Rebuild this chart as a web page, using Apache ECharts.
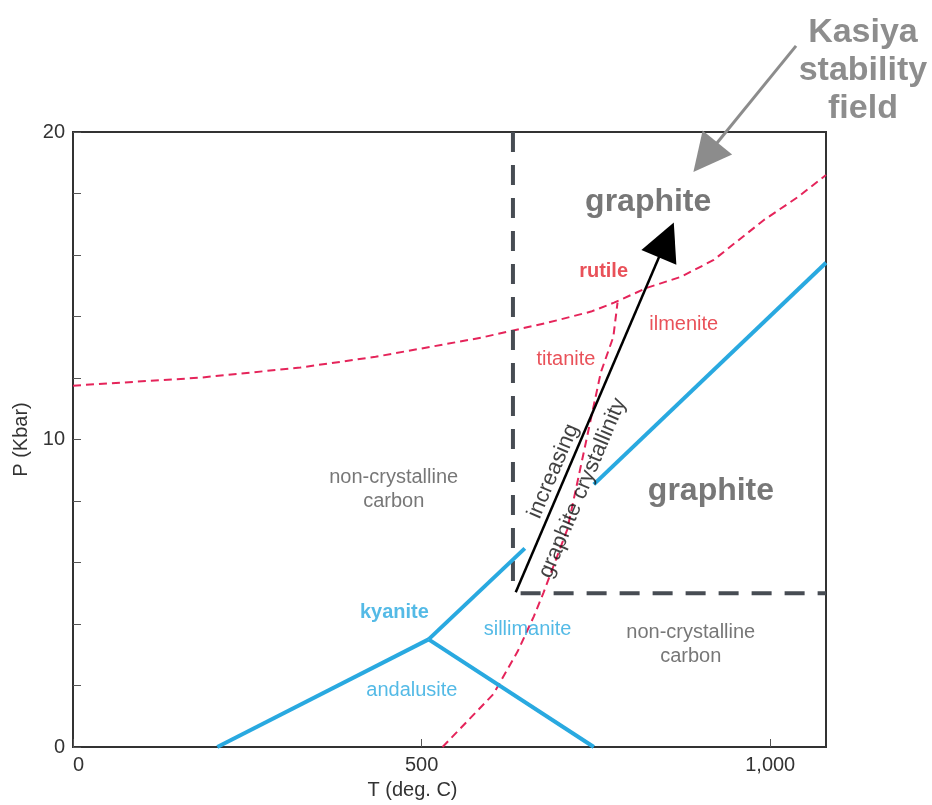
<!DOCTYPE html>
<html>
<head>
<meta charset="utf-8">
<script src="https://cdn.jsdelivr.net/npm/echarts@6/dist/echarts.min.js"></script>
<style>
  html, body { margin: 0; padding: 0; background: #fff; }
  #main { width: 932px; height: 805px; }
</style>
</head>
<body>
<div id="main"></div>
<script type="text/javascript">
// T in deg. C, P in kbar
var xTicks = [0, 500, 1000];
var yTicks = [0, 10, 20];

var kyaniteAndalusite = [[207, 0], [510, 3.5]];
var kyaniteSillimanite = [[510, 3.5], [648, 6.46]];
var andalusiteSillimanite = [[510, 3.5], [747, 0]];
var graphiteLine = [[747, 8.54], [1080, 15.75]];
var titaniteIlmenite = [[530, 0], [603, 1.72], [638, 3.12], [661, 4.25], [675, 5.03], [709, 7.08],
                        [757, 12.18], [775, 13.34], [781, 14.45]];
var rutileLine = [[0, 11.75], [182, 12.01], [326, 12.34], [434, 12.69], [585, 13.31], [681, 13.8],
                  [743, 14.16], [776, 14.45], [824, 14.94], [872, 15.29], [919, 15.84], [991, 17.14],
                  [1040, 17.89], [1080, 18.6]];
var carbonVertical = [[631, 20], [631, 5.1]];
var carbonHorizontal = [[642, 5], [1080, 5]];
var crystallinityArrow = [[635, 5.03], [851, 16.49]];
var kasiyaArrow = [[1037, 22.8], [907, 19.18]];

var annotations = [
  ['Kasiya\nstability\nfield', 1133, 22.0],
  ['graphite', 825, 17.73],
  ['rutile', 761, 15.46],
  ['ilmenite', 876, 13.73],
  ['titanite', 707, 12.6],
  ['increasing', 689, 8.97],
  ['graphite crystallinity', 731, 8.42],
  ['non-crystalline\ncarbon', 460, 8.38],
  ['graphite', 915, 8.31],
  ['non-crystalline\ncarbon', 886, 3.34],
  ['kyanite', 461, 4.38],
  ['sillimanite', 652, 3.83],
  ['andalusite', 486, 1.83]
];
var annotationKind = ['kasiya', 'big', 'redBold', 'red', 'red', 'arrowText', 'arrowText',
                      'gray', 'big', 'gray', 'blueBold', 'blue', 'blue'];

var FONT = 'Liberation Sans, Arial, Helvetica, sans-serif';
var BLUE = '#29a9e0';
var RED = '#e5245a';

var labelStyles = {
  kasiya:    { color: '#707070', fontSize: 34, fontWeight: 'bold', lineHeight: 38 },
  big:       { color: '#555555', fontSize: 32, fontWeight: 'bold' },
  redBold:   { color: '#e3262f', fontSize: 20, fontWeight: 'bold' },
  red:       { color: '#e3262f', fontSize: 20 },
  arrowText: { color: '#111111', fontSize: 22, rotate: 67 },
  gray:      { color: '#555555', fontSize: 20, lineHeight: 24 },
  blueBold:  { color: BLUE, fontSize: 20, fontWeight: 'bold' },
  blue:      { color: BLUE, fontSize: 20 }
};

function boundary(data, color, width, type) {
  return {
    type: 'line',
    data: data,
    showSymbol: false,
    symbol: 'none',
    silent: true,
    lineStyle: { color: color, width: width, type: type }
  };
}

function arrow(coords, color, width, headSize) {
  return {
    type: 'lines',
    coordinateSystem: 'cartesian2d',
    clip: false,
    silent: true,
    z: 5,
    symbol: ['none', 'triangle'],
    symbolSize: [0, headSize],
    lineStyle: { color: color, width: width, opacity: 1, curveness: 0 },
    itemStyle: { color: color },
    data: [{ coords: coords }]
  };
}

var textData = annotations.map(function (a, i) {
  var st = labelStyles[annotationKind[i]];
  return {
    value: [a[1], a[2]],
    name: a[0],
    label: Object.assign({ show: true, position: 'inside', fontFamily: FONT, align: 'center', verticalAlign: 'middle' }, st)
  };
});

var chart = echarts.init(document.getElementById('main'));
chart.setOption({
  animation: false,
  backgroundColor: '#fff',
  grid: { left: 73, right: 106, top: 132, bottom: 57, show: true, borderColor: '#333', borderWidth: 2 },
  xAxis: {
    type: 'value', min: 0, max: 1080, interval: 500,
    name: 'T (deg. C)', nameLocation: 'middle', nameGap: 33,
    nameTextStyle: { fontFamily: FONT, fontSize: 20, color: '#333', padding: [0, 74, 0, 0] },
    axisLine: { lineStyle: { color: '#333', width: 2 } },
    axisTick: { inside: true, length: 8, lineStyle: { color: '#555' } },
    splitLine: { show: false },
    axisLabel: {
      fontFamily: FONT, fontSize: 20, color: '#333', margin: 8,
      showMaxLabel: false, alignMinLabel: 'left',
      formatter: function (v) { return xTicks.indexOf(v) >= 0 ? v.toLocaleString('en-US') : ''; }
    }
  },
  yAxis: {
    type: 'value', min: 0, max: 20, interval: 2,
    name: 'P (Kbar)', nameLocation: 'middle', nameGap: 41,
    nameTextStyle: { fontFamily: FONT, fontSize: 20, color: '#333' },
    axisLine: { lineStyle: { color: '#333', width: 2 } },
    axisTick: { inside: true, length: 8, lineStyle: { color: '#555' } },
    splitLine: { show: false },
    axisLabel: {
      fontFamily: FONT, fontSize: 20, color: '#333', margin: 8,
      formatter: function (v) { return yTicks.indexOf(v) >= 0 ? String(v) : ''; }
    }
  },
  series: [
    boundary(rutileLine, RED, 2, [8, 5]),
    boundary(titaniteIlmenite, RED, 2, [8, 5]),
    boundary(carbonVertical, '#474c53', 4, [20, 13]),
    boundary(carbonHorizontal, '#474c53', 4, [20, 13]),
    boundary(kyaniteAndalusite, BLUE, 4, 'solid'),
    boundary(kyaniteSillimanite, BLUE, 4, 'solid'),
    boundary(andalusiteSillimanite, BLUE, 4, 'solid'),
    boundary(graphiteLine, BLUE, 4, 'solid'),
    arrow(crystallinityArrow, '#000', 2.5, 38),
    arrow(kasiyaArrow, '#8c8c8c', 3, 38),
    {
      type: 'scatter',
      clip: false,
      silent: true,
      z: 6,
      symbolSize: 1,
      itemStyle: { color: 'rgba(0,0,0,0)' },
      label: { formatter: '{b}' },
      data: textData
    }
  ]
});
</script>
</body>
</html>
